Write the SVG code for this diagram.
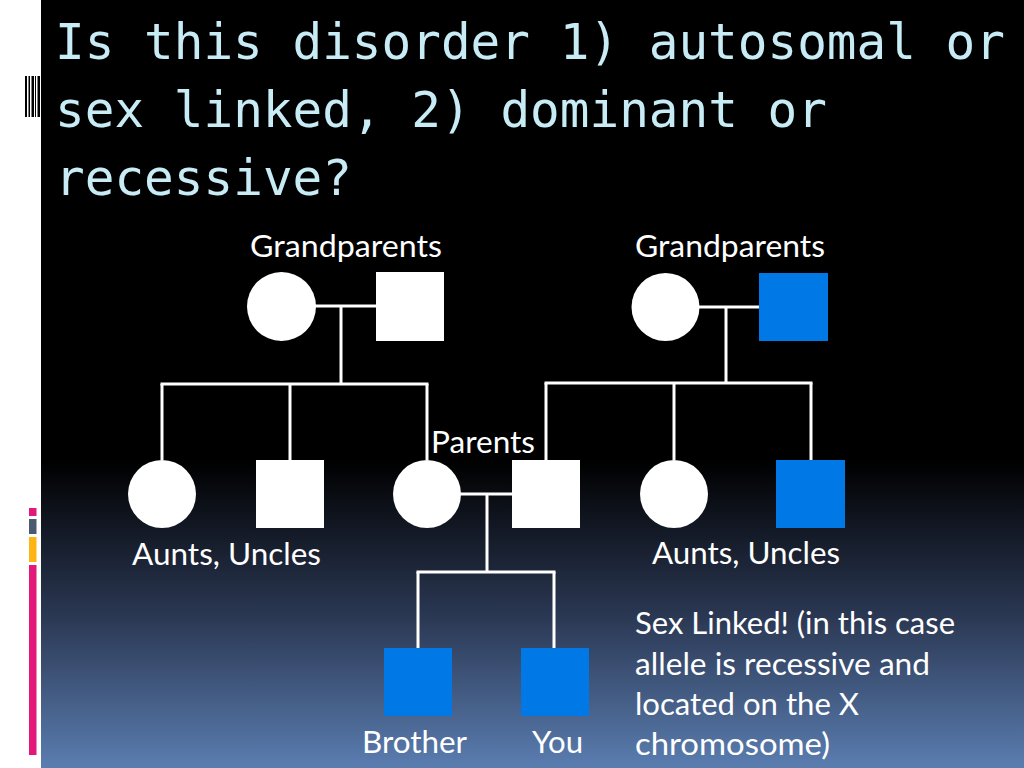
<svg xmlns="http://www.w3.org/2000/svg" width="1024" height="768" viewBox="0 0 1024 768">
  <defs>
    <linearGradient id="bg" x1="0" y1="0" x2="0" y2="768" gradientUnits="userSpaceOnUse">
      <stop offset="0" stop-color="#000000"/>
      <stop offset="0.6" stop-color="#000000"/>
      <stop offset="0.8" stop-color="#2a3752"/>
      <stop offset="1" stop-color="#5a7db0"/>
    </linearGradient>
    <style>
      .title { font-family: "DejaVu Sans Mono", "Liberation Mono", monospace; font-size: 49.5px; fill: #c8ecf6; }
      .lbl { font-family: Lato, "Open Sans", "Liberation Sans", sans-serif; font-size: 31px; fill: #ffffff; }
      .w { fill: #ffffff; }
      .b { fill: #0078e6; }
      .ln { stroke: #ffffff; stroke-width: 3; fill: none; }
    </style>
  </defs>

  <rect x="0" y="0" width="1024" height="768" fill="#ffffff"/>
  <rect x="41" y="0" width="983" height="768" fill="url(#bg)"/>

  <!-- left decorations -->
  <g id="deco-top" fill="#000000">
    <rect x="25" y="76" width="2" height="41"/>
    <rect x="28.5" y="76" width="1.5" height="41"/>
    <rect x="31.5" y="76" width="2.5" height="41"/>
    <rect x="35" y="76" width="1" height="41"/>
    <rect x="37.5" y="76" width="2.5" height="41"/>
  </g>
  <g id="deco-bottom">
    <rect x="29" y="508" width="7.5" height="8" fill="#e2197a"/>
    <rect x="29" y="519" width="7.5" height="15" fill="#4b5a70"/>
    <rect x="29" y="537" width="7.5" height="25" fill="#fdb515"/>
    <rect x="29" y="565" width="7.5" height="190" fill="#e2197a"/>
  </g>

  <!-- title -->
  <g id="title">
    <text class="title" x="55" y="59" textLength="950" lengthAdjust="spacingAndGlyphs">Is this disorder 1) autosomal or</text>
    <text class="title" x="55" y="127" textLength="772" lengthAdjust="spacingAndGlyphs">sex linked, 2) dominant or</text>
    <text class="title" x="55" y="195" textLength="297" lengthAdjust="spacingAndGlyphs">recessive?</text>
  </g>

  <!-- connectors -->
  <g id="connectors" class="ln">
    <!-- left grandparents -->
    <line x1="315" y1="306" x2="376" y2="306"/>
    <line x1="341" y1="306" x2="341" y2="384"/>
    <line x1="160.5" y1="384" x2="428.5" y2="384"/>
    <line x1="162" y1="384" x2="162" y2="460"/>
    <line x1="290" y1="384" x2="290" y2="460"/>
    <line x1="427" y1="384" x2="427" y2="460"/>
    <!-- right grandparents -->
    <line x1="699" y1="307" x2="759" y2="307"/>
    <line x1="726" y1="307" x2="726" y2="383"/>
    <line x1="544.5" y1="383" x2="812.5" y2="383"/>
    <line x1="546" y1="383" x2="546" y2="460"/>
    <line x1="674" y1="383" x2="674" y2="460"/>
    <line x1="811" y1="383" x2="811" y2="460"/>
    <!-- parents -->
    <line x1="460" y1="494" x2="512" y2="494"/>
    <line x1="487" y1="494" x2="487" y2="572"/>
    <line x1="416.5" y1="572" x2="555.5" y2="572"/>
    <line x1="418" y1="572" x2="418" y2="648"/>
    <line x1="554" y1="572" x2="554" y2="648"/>
  </g>

  <!-- nodes -->
  <g id="gp-left-female"><circle class="w" cx="281.5" cy="306.5" r="34.5"/></g>
  <g id="gp-left-male"><rect class="w" x="376" y="272" width="68" height="69"/></g>
  <g id="gp-right-female"><circle class="w" cx="665.5" cy="307" r="34"/></g>
  <g id="gp-right-male"><rect class="b" x="759" y="273" width="69" height="68"/></g>

  <g id="aunt-left"><circle class="w" cx="162" cy="494" r="34"/></g>
  <g id="uncle-left"><rect class="w" x="256" y="460" width="68" height="68"/></g>
  <g id="mother"><circle class="w" cx="427" cy="494" r="34"/></g>
  <g id="father"><rect class="w" x="512" y="460" width="68" height="68"/></g>
  <g id="aunt-right"><circle class="w" cx="674" cy="494" r="34"/></g>
  <g id="uncle-right"><rect class="b" x="776" y="460" width="69" height="68"/></g>

  <g id="brother"><rect class="b" x="384" y="648" width="68" height="68"/></g>
  <g id="you"><rect class="b" x="521" y="648" width="68" height="68"/></g>

  <!-- labels -->
  <g id="labels">
    <text class="lbl" x="250" y="257" textLength="192" lengthAdjust="spacingAndGlyphs">Grandparents</text>
    <text class="lbl" x="635" y="257" textLength="190" lengthAdjust="spacingAndGlyphs">Grandparents</text>
    <text class="lbl" x="431" y="453" textLength="104" lengthAdjust="spacingAndGlyphs">Parents</text>
    <text class="lbl" x="132" y="565" textLength="189" lengthAdjust="spacingAndGlyphs">Aunts, Uncles</text>
    <text class="lbl" x="652" y="564" textLength="188" lengthAdjust="spacingAndGlyphs">Aunts, Uncles</text>
    <text class="lbl" x="362" y="753" textLength="105" lengthAdjust="spacingAndGlyphs">Brother</text>
    <text class="lbl" x="532" y="753" textLength="51" lengthAdjust="spacingAndGlyphs">You</text>
  </g>

  <g id="note">
    <text class="lbl" x="635" y="634" textLength="320" lengthAdjust="spacingAndGlyphs">Sex Linked! (in this case</text>
    <text class="lbl" x="635" y="675" textLength="295" lengthAdjust="spacingAndGlyphs">allele is recessive and</text>
    <text class="lbl" x="635" y="715" textLength="224" lengthAdjust="spacingAndGlyphs">located on the X</text>
    <text class="lbl" x="635" y="755" textLength="195" lengthAdjust="spacingAndGlyphs">chromosome)</text>
  </g>
</svg>
